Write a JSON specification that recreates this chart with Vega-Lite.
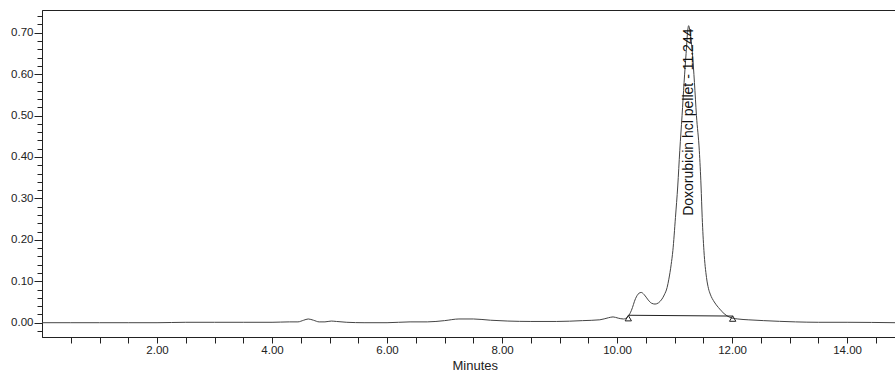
{
  "$schema": "https://vega.github.io/schema/vega-lite/v6.json",
  "width": 854,
  "height": 327,
  "autosize": "none",
  "padding": {"left": 42, "top": 10, "right": 0, "bottom": 34},
  "background": "white",
  "config": {
    "view": {"stroke": "#222", "strokeWidth": 1},
    "font": "Liberation Sans",
    "axis": {
      "grid": false,
      "domainColor": "#222",
      "tickColor": "#222",
      "labelColor": "#222",
      "titleColor": "#222",
      "labelFont": "Liberation Sans",
      "titleFont": "Liberation Sans",
      "labelFontSize": 11.5,
      "titleFontWeight": "normal"
    }
  },
  "datasets": {
    "trace": [
      {"t": 0.00, "v": 0.000}, {"t": 0.50, "v": 0.000}, {"t": 1.00, "v": 0.000}, {"t": 1.50, "v": 0.000},
      {"t": 2.00, "v": 0.000}, {"t": 2.50, "v": 0.001}, {"t": 3.00, "v": 0.001}, {"t": 3.50, "v": 0.001},
      {"t": 4.00, "v": 0.001}, {"t": 4.30, "v": 0.002}, {"t": 4.45, "v": 0.002}, {"t": 4.55, "v": 0.006},
      {"t": 4.63, "v": 0.009}, {"t": 4.72, "v": 0.006}, {"t": 4.82, "v": 0.002}, {"t": 4.92, "v": 0.002},
      {"t": 5.03, "v": 0.004}, {"t": 5.12, "v": 0.003}, {"t": 5.30, "v": 0.001}, {"t": 5.60, "v": 0.000},
      {"t": 6.00, "v": 0.000}, {"t": 6.40, "v": 0.002}, {"t": 6.70, "v": 0.002}, {"t": 7.00, "v": 0.005},
      {"t": 7.25, "v": 0.009}, {"t": 7.50, "v": 0.009}, {"t": 7.80, "v": 0.006}, {"t": 8.10, "v": 0.004},
      {"t": 8.50, "v": 0.003}, {"t": 8.95, "v": 0.003}, {"t": 9.40, "v": 0.005}, {"t": 9.70, "v": 0.007},
      {"t": 9.85, "v": 0.012}, {"t": 9.93, "v": 0.014}, {"t": 10.02, "v": 0.011}, {"t": 10.11, "v": 0.009},
      {"t": 10.19, "v": 0.015}, {"t": 10.25, "v": 0.030}, {"t": 10.32, "v": 0.058}, {"t": 10.38, "v": 0.071},
      {"t": 10.42, "v": 0.073}, {"t": 10.47, "v": 0.068}, {"t": 10.54, "v": 0.055}, {"t": 10.60, "v": 0.047},
      {"t": 10.66, "v": 0.045}, {"t": 10.72, "v": 0.048}, {"t": 10.78, "v": 0.057}, {"t": 10.82, "v": 0.067},
      {"t": 10.87, "v": 0.085}, {"t": 10.90, "v": 0.105}, {"t": 10.94, "v": 0.140}, {"t": 10.97, "v": 0.174},
      {"t": 11.015, "v": 0.254}, {"t": 11.055, "v": 0.330}, {"t": 11.09, "v": 0.415}, {"t": 11.13, "v": 0.500},
      {"t": 11.165, "v": 0.580}, {"t": 11.20, "v": 0.650}, {"t": 11.225, "v": 0.700}, {"t": 11.244, "v": 0.717},
      {"t": 11.27, "v": 0.700}, {"t": 11.31, "v": 0.650}, {"t": 11.345, "v": 0.580}, {"t": 11.38, "v": 0.500},
      {"t": 11.43, "v": 0.415}, {"t": 11.46, "v": 0.330}, {"t": 11.48, "v": 0.254}, {"t": 11.51, "v": 0.174},
      {"t": 11.555, "v": 0.109}, {"t": 11.59, "v": 0.082}, {"t": 11.62, "v": 0.069}, {"t": 11.69, "v": 0.050},
      {"t": 11.76, "v": 0.037}, {"t": 11.86, "v": 0.022}, {"t": 11.96, "v": 0.013}, {"t": 12.10, "v": 0.009},
      {"t": 12.28, "v": 0.007}, {"t": 12.55, "v": 0.005}, {"t": 13.10, "v": 0.002}, {"t": 13.50, "v": 0.001},
      {"t": 14.00, "v": 0.001}, {"t": 14.85, "v": 0.000}
    ],
    "baseline": [
      {"t": 10.195, "v": 0.018},
      {"t": 12.01, "v": 0.016}
    ],
    "markers": [
      {"t": 10.195, "v": 0.011},
      {"t": 12.01, "v": 0.010}
    ],
    "labels": [
      {"t": 11.244, "v": 0.258, "text": "Doxorubicin hcl pellet - 11.244"}
    ]
  },
  "encoding": {
    "x": {
      "field": "t",
      "type": "quantitative",
      "scale": {"domain": [0, 14.85], "nice": false, "zero": false},
      "axis": {
        "title": "Minutes",
        "titleFontSize": 13,
        "titleAlign": "left",
        "titleAnchor": null,
        "titleX": 410,
        "titleY": 32,
        "titleBaseline": "alphabetic",
        "values": [0.5, 1, 1.5, 2, 2.5, 3, 3.5, 4, 4.5, 5, 5.5, 6, 6.5, 7, 7.5, 8, 8.5, 9, 9.5, 10, 10.5, 11, 11.5, 12, 12.5, 13, 13.5, 14, 14.5],
        "labelExpr": "datum.value % 2 === 0 ? format(datum.value, '.2f') : ''",
        "tickSize": 6,
        "labelPadding": 1,
        "labelFlush": false,
        "labelOverlap": false
      }
    },
    "y": {
      "field": "v",
      "type": "quantitative",
      "scale": {"domain": [-0.0345, 0.7548], "nice": false, "zero": false},
      "axis": {
        "title": null,
        "values": [-0.02, 0, 0.02, 0.04, 0.06, 0.08, 0.1, 0.12, 0.14, 0.16, 0.18, 0.2, 0.22, 0.24, 0.26, 0.28, 0.3, 0.32, 0.34, 0.36, 0.38, 0.4, 0.42, 0.44, 0.46, 0.48, 0.5, 0.52, 0.54, 0.56, 0.58, 0.6, 0.62, 0.64, 0.66, 0.68, 0.7, 0.72, 0.74],
        "labelExpr": "abs(datum.value * 10 - round(datum.value * 10)) < 0.001 ? format(datum.value, '.2f') : ''",
        "tickSize": {"condition": {"test": "abs(datum.value * 10 - round(datum.value * 10)) < 0.001", "value": 8}, "value": 5},
        "labelPadding": 1,
        "labelFontSize": 11.5,
        "labelOverlap": false,
        "labelFlush": false
      }
    }
  },
  "layer": [
    {
      "data": {"name": "trace"},
      "mark": {"type": "line", "color": "#444", "strokeWidth": 1, "interpolate": "monotone", "clip": true}
    },
    {
      "data": {"name": "baseline"},
      "mark": {"type": "line", "color": "#222", "strokeWidth": 1, "clip": true}
    },
    {
      "data": {"name": "markers"},
      "mark": {"type": "point", "shape": "triangle-up", "filled": false, "color": "#222", "size": 40, "strokeWidth": 1, "opacity": 1}
    },
    {
      "data": {"name": "labels"},
      "mark": {"type": "text", "angle": -90, "align": "left", "baseline": "middle", "fontSize": 14, "font": "Liberation Sans", "color": "#111"},
      "encoding": {"text": {"field": "text", "type": "nominal"}}
    }
  ]
}
